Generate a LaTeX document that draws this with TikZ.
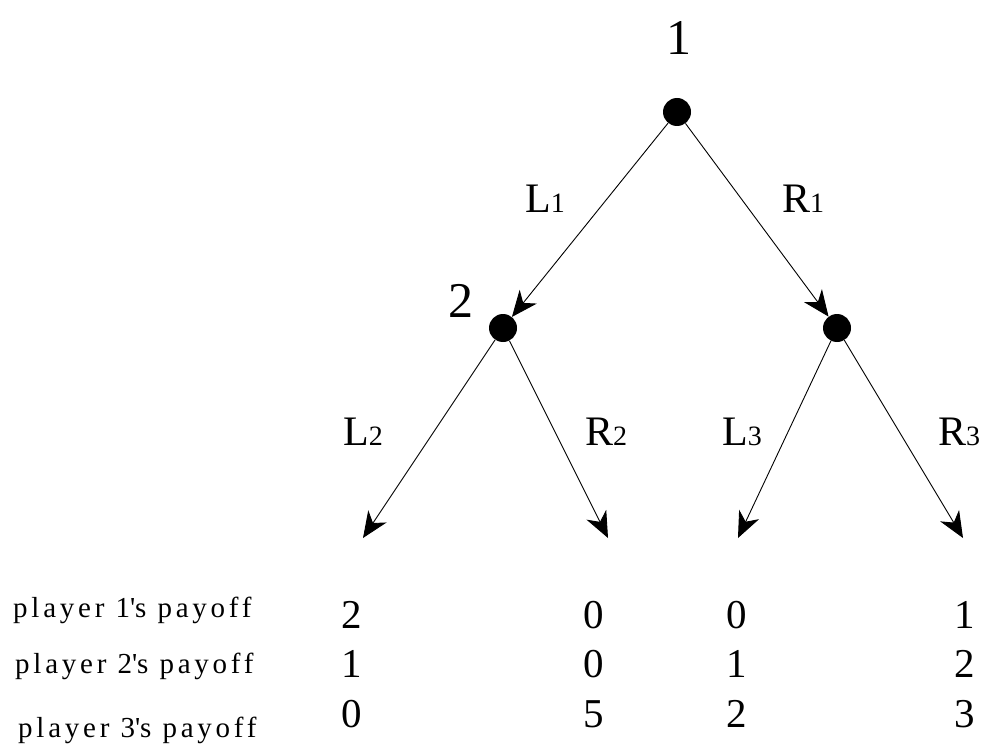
\documentclass[tikz,border=0pt]{standalone}
\usepackage{fontspec}
\setmainfont{Liberation Serif}
\usetikzlibrary{arrows.meta}
\begin{document}
\begin{tikzpicture}[x=1pt,y=-1pt,
  dot/.style={circle,fill=black,inner sep=0pt,minimum size=28pt},
  edge/.style={line width=0.9pt,-{Stealth[length=26pt,width=22pt,inset=8pt]}},
  big/.style={font=\fontsize{50}{50}\selectfont,inner sep=0pt,anchor=base},
  lab/.style={font=\fontsize{42}{42}\selectfont,inner sep=0pt,anchor=base west},
  num/.style={font=\fontsize{41}{41}\selectfont,inner sep=0pt,anchor=base},
  plab/.style={font=\fontsize{29}{29}\selectfont\addfontfeature{LetterSpace=13},inner sep=0pt,anchor=base west}]
\useasboundingbox (0,0) rectangle (982,746);
\newcommand{\sub}[1]{{\fontsize{28}{28}\selectfont #1}}
% decision nodes
\node[dot] (r) at (677,112) {};
\node[dot] (a) at (503,328) {};
\node[dot] (b) at (837,328) {};
\node[big] (t1) at (679,55) {1};
\node[big] (t2) at (461,317) {2};
% leaves
\coordinate (l1) at (363,538);
\coordinate (l2) at (608,538);
\coordinate (l3) at (738,538);
\coordinate (l4) at (963,538);
\draw[edge] (r) -- (a);
\draw[edge] (r) -- (b);
\draw[edge] (a) -- (l1);
\draw[edge] (a) -- (l2);
\draw[edge] (b) -- (l3);
\draw[edge] (b) -- (l4);
% action labels
\node[lab] (L1) at (525,212) {L\sub{1}};
\node[lab] (R1) at (782,212) {R\sub{1}};
\node[lab] (L2) at (343,445) {L\sub{2}};
\node[lab] (R2) at (585,445) {R\sub{2}};
\node[lab] (L3) at (722,445) {L\sub{3}};
\node[lab] (R3) at (938,445) {R\sub{3}};
% payoff labels
\node[plab] (p1) at (13,617) {player 1\textquotesingle s payoff};
\node[plab] (p2) at (15,673) {player 2\textquotesingle s payoff};
\node[plab] (p3) at (18,737) {player 3\textquotesingle s payoff};
% payoffs
\node[num] (a1) at (352,628) {2};
\node[num] (a2) at (352,677) {1};
\node[num] (a3) at (352,727) {0};
\node[num] (b1) at (594,628) {0};
\node[num] (b2) at (594,677) {0};
\node[num] (b3) at (594,727) {5};
\node[num] (c1) at (737,628) {0};
\node[num] (c2) at (737,677) {1};
\node[num] (c3) at (737,727) {2};
\node[num] (d1) at (965,628) {1};
\node[num] (d2) at (965,677) {2};
\node[num] (d3) at (965,727) {3};
\end{tikzpicture}
\end{document}
